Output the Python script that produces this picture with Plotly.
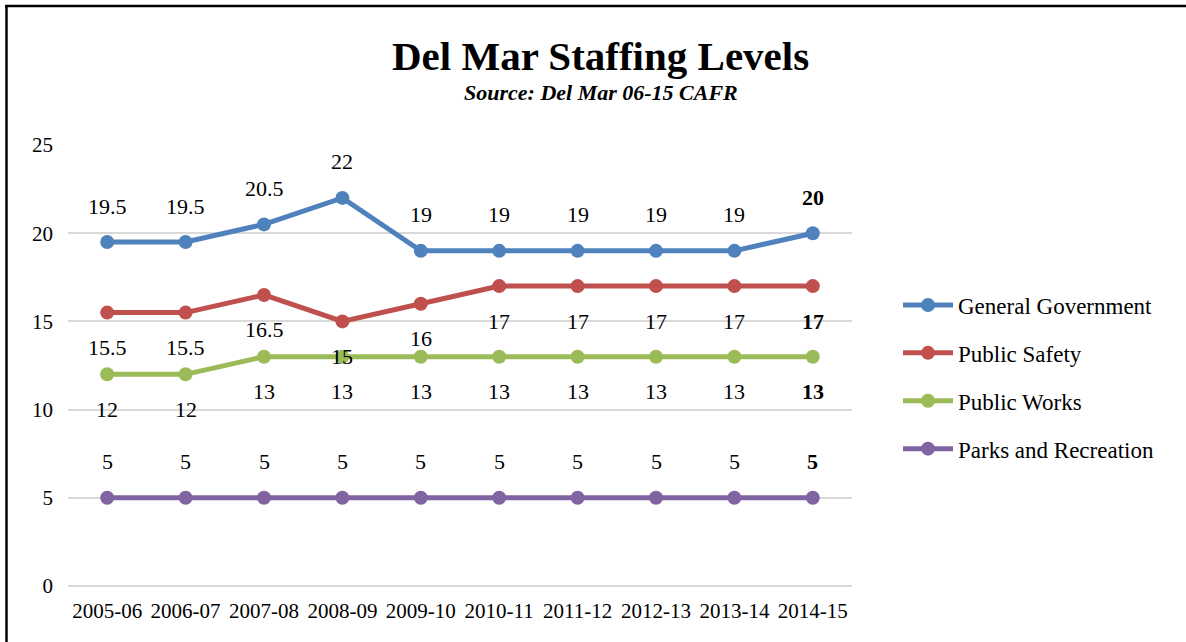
import plotly.graph_objects as go

years = ["2005-06", "2006-07", "2007-08", "2008-09", "2009-10",
         "2010-11", "2011-12", "2012-13", "2013-14", "2014-15"]
general_government = [19.5, 19.5, 20.5, 22, 19, 19, 19, 19, 19, 20]
public_safety = [15.5, 15.5, 16.5, 15, 16, 17, 17, 17, 17, 17]
public_works = [12, 12, 13, 13, 13, 13, 13, 13, 13, 13]
parks_recreation = [5, 5, 5, 5, 5, 5, 5, 5, 5, 5]

series = [
    ("General Government", general_government, "#4F81BD", 36),
    ("Public Safety", public_safety, "#C0504D", -35),
    ("Public Works", public_works, "#9BBB59", -35),
    ("Parks and Recreation", parks_recreation, "#8064A2", 36),
]

FONT = "Liberation Serif"
W, H = 1186, 642
L, R, T, B = 68, 334, 145, 56
pw, ph = W - L - R, H - T - B


def px(xp):
    return (xp - L) / pw


def py(yp):
    return (H - B - yp) / ph


fig = go.Figure()
annotations = []
for i, (name, vals, color, shift) in enumerate(series):
    fig.add_trace(go.Scatter(
        x=years, y=vals, name=name, mode="lines+markers",
        line=dict(color=color, width=5),
        marker=dict(color=color, size=14),
        legendgroup=f"g{i}",
    ))
    for j, (xv, yv) in enumerate(zip(years, vals)):
        txt = f"{yv:g}"
        if j == len(years) - 1:
            txt = f"<b>{txt}</b>"
        annotations.append(dict(
            x=xv, y=yv, xref="x", yref="y", text=txt, showarrow=False,
            yshift=shift, font=dict(family=FONT, size=22, color="#000000"),
        ))

annotations.append(dict(
    x=px(600), y=py(56), xref="paper", yref="paper", xanchor="center", yanchor="middle",
    text="<b>Del Mar Staffing Levels</b>",
    showarrow=False, font=dict(family=FONT, size=41, color="#000000"),
))
annotations.append(dict(
    x=px(601), y=py(93), xref="paper", yref="paper", xanchor="center", yanchor="middle",
    text="<b><i>Source: Del Mar 06-15 CAFR</i></b>",
    showarrow=False, font=dict(family=FONT, size=22, color="#000000"),
))

shapes = [
    dict(type="line", xref="paper", yref="paper", x0=px(5), x1=px(1200), y0=py(6), y1=py(6),
         line=dict(color="#000000", width=2.5)),
    dict(type="line", xref="paper", yref="paper", x0=px(6.5), x1=px(6.5), y0=py(5), y1=py(660),
         line=dict(color="#000000", width=2.5)),
]

fig.update_layout(
    width=W, height=H,
    margin=dict(l=L, r=R, t=T, b=B, autoexpand=False),
    paper_bgcolor="white", plot_bgcolor="white",
    font=dict(family=FONT, size=21, color="#000000"),
    showlegend=True,
    legend=dict(x=px(898), y=py(377), xanchor="left", yanchor="middle",
                font=dict(family=FONT, size=23, color="#000000"),
                tracegroupgap=15, itemwidth=50, bgcolor="rgba(0,0,0,0)"),
    annotations=annotations,
    shapes=shapes,
    xaxis=dict(type="category", range=[-0.5, 9.5], showgrid=False, showline=False,
               zeroline=False, ticks="", tickfont=dict(family=FONT, size=21),
               ticklabelstandoff=10, fixedrange=True),
    yaxis=dict(range=[0, 25], dtick=5, showgrid=True, gridcolor="#D9D9D9", gridwidth=1.5,
               zeroline=True, zerolinecolor="#D9D9D9", zerolinewidth=1.5,
               showline=False, ticks="", tickfont=dict(family=FONT, size=21),
               ticklabelstandoff=14, fixedrange=True),
)

fig.write_html(
    "out.html",
    config={"displayModeBar": False},
    post_script="document.body.style.margin='0';document.body.style.padding='0';",
)
